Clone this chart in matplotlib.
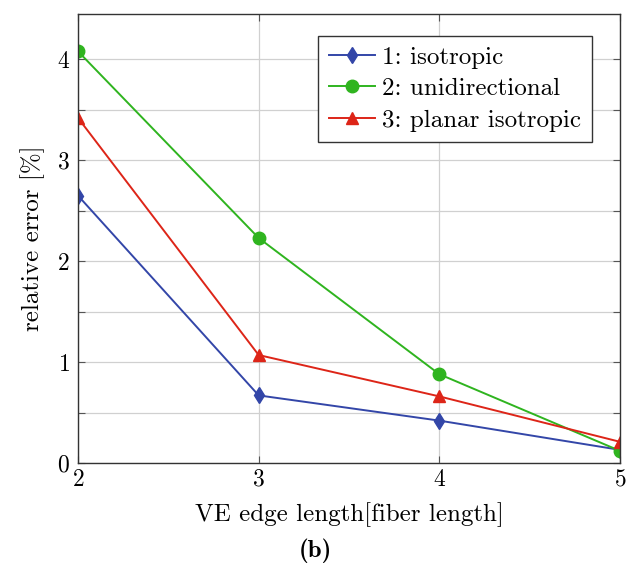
import matplotlib
matplotlib.use("Agg")
import matplotlib.pyplot as plt
from matplotlib.ticker import MultipleLocator

plt.rcParams['font.family'] = ['cmr10', 'DejaVu Serif']
plt.rcParams['axes.formatter.use_mathtext'] = True
plt.rcParams['mathtext.fontset'] = 'cm'

x = [2, 3, 4, 5]
iso = [2.65, 0.67, 0.42, 0.13]
uni = [4.08, 2.23, 0.88, 0.12]
planar = [3.42, 1.07, 0.66, 0.21]
labels = ['1: isotropic', '2: unidirectional', '3: planar isotropic']

fig = plt.figure(figsize=(6.32, 5.64), dpi=100)
ax = fig.add_axes([78/632, 1-463/564, (620-78)/632, (463-14)/564])

ax.plot(x, iso, color='#3346a8', marker='d', markersize=8, lw=1.4, label=labels[0])
ax.plot(x, uni, color='#2fb41f', marker='o', markersize=9, lw=1.4, label=labels[1])
ax.plot(x, planar, color='#dd2518', marker='^', markersize=9, lw=1.4, label=labels[2])

ax.set_xlim(2, 5)
ax.set_ylim(0, 4.45)
ax.xaxis.set_major_locator(MultipleLocator(1))
ax.yaxis.set_major_locator(MultipleLocator(1))
ax.yaxis.set_minor_locator(MultipleLocator(0.5))
ax.grid(True, which='major', axis='x', color='#d0d0d0', lw=0.9)
ax.grid(True, which='both', axis='y', color='#d0d0d0', lw=0.9)
ax.set_axisbelow(True)
ax.tick_params(direction='in', which='both', top=True, right=True, labelsize=17, length=5, width=0.8, color='#555555')
ax.tick_params(which='minor', length=5)
ax.tick_params(axis='x', pad=4)
ax.tick_params(axis='y', pad=6)
for s in ax.spines.values():
    s.set_color('#333333')
    s.set_linewidth(1.0)

ax.set_xlabel('VE edge length[fiber length]', fontsize=18, labelpad=8)
ax.set_ylabel('relative error [%]', fontsize=18, labelpad=8)

leg = ax.legend(loc='upper right', bbox_to_anchor=(0.948, 0.952), fontsize=18, frameon=True,
                fancybox=False, edgecolor='#333333', framealpha=1, handlelength=1.85,
                borderpad=0.42, labelspacing=0.36, handletextpad=0.3, borderaxespad=0)
leg.get_frame().set_linewidth(1.0)

fig.text(315/632, 1-551/564, '(b)', ha='center', va='center', fontsize=18, family=['cmb10', 'DejaVu Serif'])

fig.savefig('out.png', dpi=100)
